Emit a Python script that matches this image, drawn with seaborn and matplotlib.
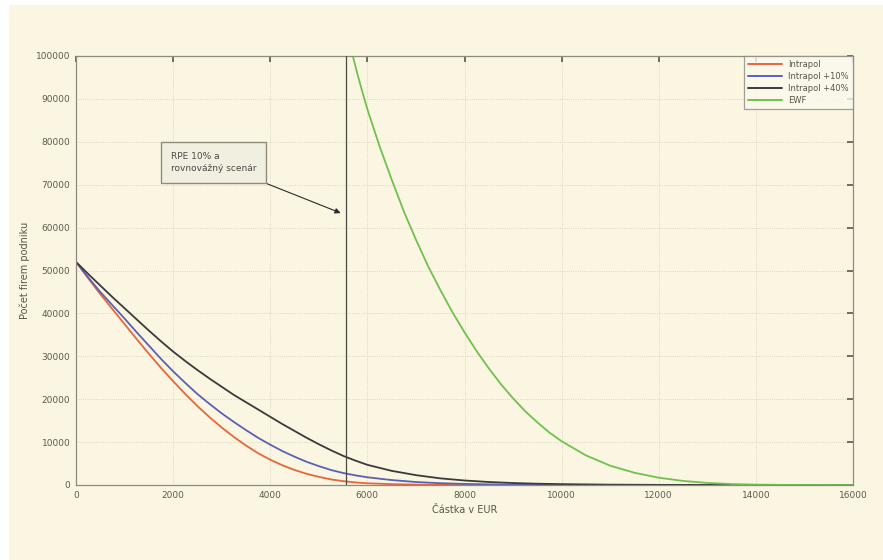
import matplotlib
matplotlib.use("Agg")
import matplotlib.pyplot as plt
import matplotlib.patches as mpatches
import pandas as pd
import seaborn as sns

# Amount axis (EUR) and the number of firms for each scenario
x_amount = [0, 250, 500, 750, 1000, 1250, 1500, 1750, 2000, 2250, 2500, 2750, 3000,
            3250, 3500, 3750, 4000, 4250, 4500, 4750, 5000, 5250, 5500, 5750, 6000,
            6500, 7000, 7500, 8000, 8500, 9000, 9500, 10000, 11000, 12000, 13000, 14000, 16000]
firms_base = [52000, 48200, 44500, 41000, 37500, 34000, 30600, 27300, 24200, 21200, 18400,
              15800, 13400, 11200, 9200, 7400, 5900, 4600, 3500, 2600, 1900, 1300, 900,
              600, 400, 200, 90, 40, 15, 0, 0, 0, 0, 0, 0, 0, 0, 0]
firms_plus10 = [52000, 48400, 45000, 41900, 38800, 35600, 32500, 29400, 26500, 23800, 21200,
                18900, 16700, 14700, 12800, 11000, 9400, 7900, 6600, 5400, 4400, 3500, 2800,
                2250, 1800, 1150, 700, 420, 250, 150, 80, 40, 20, 5, 0, 0, 0, 0]
firms_plus40 = [52000, 49200, 46500, 43800, 41200, 38600, 36000, 33500, 31100, 28900, 26800,
                24800, 22900, 21000, 19300, 17600, 15900, 14200, 12600, 11000, 9500, 8100,
                6800, 5700, 4700, 3300, 2300, 1550, 1050, 700, 460, 300, 200, 80, 30, 10, 0, 0]

x_ewf = [5700, 5800, 5900, 6000, 6250, 6500, 6750, 7000, 7250, 7500, 7750, 8000, 8250,
         8500, 8750, 9000, 9250, 9500, 9750, 10000, 10500, 11000, 11500, 12000, 12500,
         13000, 13500, 14000, 14500, 15000, 16000]
firms_ewf = [100000, 95600, 91500, 87600, 79000, 71200, 63800, 57200, 51000, 45500, 40300,
             35600, 31200, 27200, 23500, 20200, 17200, 14600, 12200, 10200, 6900, 4500,
             2850, 1700, 950, 480, 220, 90, 30, 10, 0]

series_names = ["Intrapol", "Intrapol +10%", "Intrapol +40%", "EWF"]
series_colors = ["#e8663c", "#5b60b4", "#3a3a3a", "#72c04e"]

x_ticks = [0, 2000, 4000, 6000, 8000, 10000, 12000, 14000, 16000]
y_ticks = [0, 10000, 20000, 30000, 40000, 50000, 60000, 70000, 80000, 90000, 100000]

threshold_x = 5556
note_text = "RPE 10% a\nrovnovážný scenár"
x_label = "Částka v EUR"
y_label = "Počet firem podniku"

frames = []
for name, ys in zip(series_names[:3], [firms_base, firms_plus10, firms_plus40]):
    frames.append(pd.DataFrame({"x": x_amount, "y": ys, "series": name}))
frames.append(pd.DataFrame({"x": x_ewf, "y": firms_ewf, "series": series_names[3]}))
df = pd.concat(frames, ignore_index=True)

sns.set_theme(style="white")
plt.rcParams["font.family"] = ["DejaVu Sans"]

cream = "#faf6e2"
fig = plt.figure(figsize=(8.83, 5.6), dpi=100, facecolor="white")
fig.patches.append(mpatches.Rectangle((9 / 883, 0), 1, 1 - 5 / 560, transform=fig.transFigure,
                                      facecolor=cream, edgecolor="none", zorder=-10))
ax = fig.add_axes([76 / 883, 1 - 485 / 560, (853 - 76) / 883, (485 - 56) / 560])
ax.set_facecolor(cream)

palette = dict(zip(series_names, series_colors))
sns.lineplot(data=df, x="x", y="y", hue="series", palette=palette, hue_order=series_names,
             ax=ax, linewidth=1.3, estimator=None, sort=True)
for line in ax.get_lines():
    if line.get_label() == "EWF":
        line.set_linewidth(2.2)

ax.set_xlim(0, 16000)
ax.set_ylim(0, 100000)
ax.set_xticks(x_ticks)
ax.set_yticks(y_ticks)
ax.set_xticklabels([str(v) for v in x_ticks])
ax.set_yticklabels([str(v) for v in y_ticks])
ax.tick_params(axis="both", labelsize=6.5, colors="#5f5b4e", direction="in", length=4,
               top=True, right=True, pad=4)
ax.grid(True, color="#d2cdb8", linewidth=0.6, linestyle=":")
for sp in ax.spines.values():
    sp.set_color("#8f8b7c")
    sp.set_linewidth(0.9)

ax.set_xlabel(x_label, fontsize=7, color="#5a5648", labelpad=4)
ax.set_ylabel(y_label, fontsize=7, color="#5a5648", labelpad=4)

ax.axvline(threshold_x, color="#4a4a44", linewidth=0.9, zorder=3)

ax.annotate(note_text, xy=(5450, 63400), xytext=(1950, 75200),
            fontsize=6.5, color="#4a4a44", ha="left", va="center", linespacing=1.5,
            bbox=dict(boxstyle="square,pad=1.1", facecolor="#f1efe0", edgecolor="#8f8b7c",
                      linewidth=1.0),
            arrowprops=dict(arrowstyle="-|>", color="#2a2a2a", linewidth=0.8,
                            mutation_scale=8, shrinkA=0, shrinkB=0))

leg = ax.legend(loc="upper right", fontsize=6, frameon=True, fancybox=False,
                borderaxespad=0.0, handlelength=4.0, labelspacing=0.35, borderpad=0.5)
leg.get_frame().set_edgecolor("#8f8b7c")
leg.get_frame().set_facecolor("#fbf9ee")
leg.get_frame().set_linewidth(0.9)
for t in leg.get_texts():
    t.set_color("#5a5648")
for h in leg.get_lines():
    h.set_linewidth(1.4)

fig.savefig("out.png", dpi=100, facecolor=fig.get_facecolor())
